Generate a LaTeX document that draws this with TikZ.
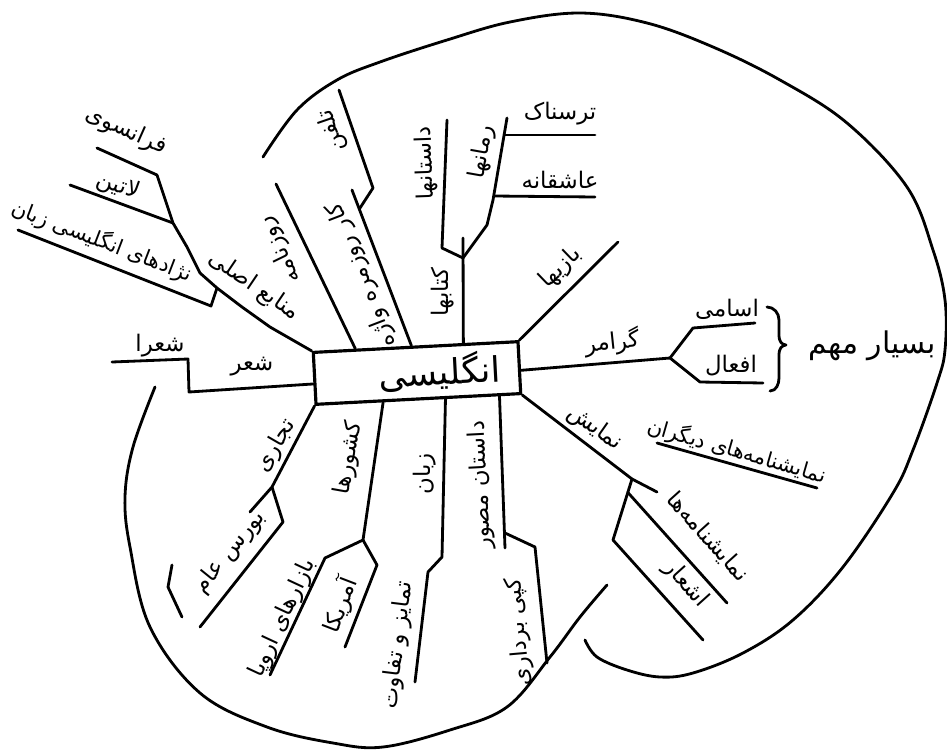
\documentclass[tikz,border=0pt]{standalone}
\usepackage{fontspec}
\newfontfamily\farsi[Script=Arabic]{DejaVu Sans}
\TeXXeTstate=1
\usetikzlibrary{calc}
\newcommand{\fa}[1]{\beginR #1\endR}

\begin{document}
\begin{tikzpicture}[x=0.02cm, y=-0.02cm,
    ln/.style={line width=1.6pt, line join=round, line cap=round},
    lab/.style={font=\farsi\fontsize{13}{15}\selectfont, inner sep=1pt},
    hub/.style={draw, line width=1.8pt, minimum width=4.1cm, minimum height=1.04cm, inner sep=0pt, font=\farsi\fontsize{20}{24}\selectfont}
  ]
    \useasboundingbox (0,0) rectangle (947,754);

    % Centre
    \node[hub, rotate=3] (eng) at (417,373) {\hspace*{0.9cm}\fa{انگلیسی}};

    % Outer rim, two lobes
    \draw[ln] plot[smooth, tension=0.6] coordinates {(263,157) (297,110) (337,80) (380,62) (447,40) (510,22) (580,13) (647,23) (713,47) (780,80) (847,123) (907,187) (933,250) (945,300) (945,350) (937,383) (913,450) (893,493) (843,567) (793,620) (743,653) (693,673) (660,677) (627,670) (597,657) (585,640)};
    \draw[ln] plot[smooth, tension=0.6] coordinates {(607,585) (580,617) (550,657) (507,707) (450,730) (383,747) (333,743) (267,727) (200,693) (150,627) (130,547) (125,497) (133,447) (155,387)};

    % Junctions and free ends
    \coordinate (shL) at ($(eng.north west)!0.6!(eng.south west)$);
    \coordinate (shiraEnd) at (112,362);
    \coordinate (srcFr) at (157,175);
    \coordinate (srcLat) at (173,223);
    \coordinate (srcNej) at (217,288);
    \coordinate (frEnd) at (97,148);
    \coordinate (latEnd) at (70,185);
    \coordinate (nejEnd) at (18,230);
    \coordinate (rozTop) at ($(eng.north west)!0.21!(eng.north east)$);
    \coordinate (rozEnd) at (276,184);
    \coordinate (karTop) at ($(eng.north west)!0.48!(eng.north east)$);
    \coordinate (karEnd) at (352,190);
    \coordinate (karJ) at (360,208);
    \coordinate (telEnd) at (339,90);
    \coordinate (ketTop) at ($(eng.north west)!0.73!(eng.north east)$);
    \coordinate (ketJ) at (463,258);
    \coordinate (ketEnd) at (463,238);
    \coordinate (dasEnd) at (447,120);
    \coordinate (romEnd) at (507,118);
    \coordinate (tarJ) at (504,135);
    \coordinate (tarEnd) at (595,135);
    \coordinate (ashJ) at (494,196);
    \coordinate (ashEnd) at (595,197);
    \coordinate (bazEnd) at (618,242);
    \coordinate (gramR) at ($(eng.north east)!0.55!(eng.south east)$);
    \coordinate (gramJ) at (670,358);
    \coordinate (asaEnd) at (755,323);
    \coordinate (afaEnd) at (763,383);
    \coordinate (namJ) at (632,479);
    \coordinate (namEnd) at (657,492);
    \coordinate (namSub) at ($(namJ)!0.22!(613,540)$);
    \coordinate (ashaarEnd) at (703,640);
    \coordinate (namhaEnd) at (727,603);
    \coordinate (digA) at (657,443);
    \coordinate (digB) at (817,488);
    \coordinate (tejJ) at (272,487);
    \coordinate (tejEnd) at (250,512);
    \coordinate (bourEnd) at (200,627);
    \coordinate (keshTop) at ($(eng.south west)!0.33!(eng.south east)$);
    \coordinate (keshJ) at (363,540);
    \coordinate (eurEnd) at (270,675);
    \coordinate (amrEnd) at (345,647);
    \coordinate (zabTop) at ($(eng.south west)!0.63!(eng.south east)$);
    \coordinate (zabEnd) at (415,682);
    \coordinate (mosTop) at ($(eng.south west)!0.89!(eng.south east)$);
    \coordinate (mosJ) at (505,533);
    \coordinate (mosEnd) at (505,548);
    \coordinate (kopEnd) at (547,663);

    % Branches
    \draw[ln] (shL) -- (189,392) -- (188,359) -- (shiraEnd);
    \draw[ln] (eng.north west) -- (270,327) -- (242,307) -- (srcNej) -- (200,273) -- (187,247) -- (srcLat) -- (srcFr);
    \draw[ln] (srcFr) -- (frEnd);
    \draw[ln] (srcLat) -- (latEnd);
    \draw[ln] (srcNej) -- (211,306) -- (nejEnd);
    \draw[ln] (rozTop) -- (rozEnd);
    \draw[ln] (karTop) -- (karEnd);
    \draw[ln] (karJ) -- (373,188) -- (telEnd);
    \draw[ln] (ketTop) -- (ketEnd);
    \draw[ln] (ketJ) -- (442,248) -- (dasEnd);
    \draw[ln] (ketJ) -- (487,225) -- (493,200) -- (romEnd);
    \draw[ln] (tarJ) -- (tarEnd);
    \draw[ln] (ashJ) -- (ashEnd);
    \draw[ln] (eng.north east) -- (bazEnd);
    \draw[ln] (gramR) -- (gramJ);
    \draw[ln] (gramJ) -- (693,328) -- (asaEnd);
    \draw[ln] (gramJ) -- (700,382) -- (afaEnd);
    \draw[ln] (eng.south east) -- (namJ) -- (namEnd);
    \draw[ln] (namJ) -- (613,540) -- (ashaarEnd);
    \draw[ln] (namSub) -- (namhaEnd);
    \draw[ln] (digA) -- (digB);
    \draw[ln] (eng.south west) -- (tejJ) -- (tejEnd);
    \draw[ln] (tejJ) -- (283,522) -- (bourEnd);
    \draw[ln] (172,565) -- (168,587) -- (182,617);
    \draw[ln] (keshTop) -- (keshJ);
    \draw[ln] (keshJ) -- (325,558) -- (eurEnd);
    \draw[ln] (keshJ) -- (377,565) -- (amrEnd);
    \draw[ln] (zabTop) -- (442,557) -- (428,572) -- (zabEnd);
    \draw[ln] (mosTop) -- (mosEnd);
    \draw[ln] (mosJ) -- (535,547) -- (kopEnd);

    % Brace
    \draw[ln] (767,307) to[out=0,in=90] (779,320) -- (779,336) to[out=-90,in=180] (786,345) to[out=180,in=90] (779,354) -- (779,378) to[out=-90,in=0] (770,391);

    % Labels
    \node[lab, rotate=-24] (frLab) at (126,131) {\fa{فرانسوی}};
    \node[lab, rotate=-20] (latLab) at (118,186) {\fa{لاتین}};
    \node[lab, rotate=-21, font=\farsi\fontsize{12}{14}\selectfont] (nejLab) at (102,241) {\fa{نژادهای انگلیسی زبان}};
    \node[lab, rotate=-34] (srcLab) at (254,286) {\fa{منابع اصلی}};
    \node[lab] (shiraLab) at (160,346) {\fa{شعرا}};
    \node[lab] (shLab) at (252,367) {\fa{شعر}};
    \node[lab, rotate=109] (telLab) at (332,131) {\fa{تلفن}};
    \node[lab, rotate=116] (rozLab) at (280,250) {\fa{روزنامه}};
    \node[lab, rotate=111] (karLab) at (362,275) {\fa{کار روزمره واژه}};
    \node[lab, rotate=92] (dasLab) at (426,163) {\fa{داستانها}};
    \node[lab, rotate=80] (romLab) at (482,152) {\fa{رمانها}};
    \node[lab, rotate=90] (ketLab) at (443,292) {\fa{کتابها}};
    \node[lab] (tarLab) at (560,114) {\fa{ترسناک}};
    \node[lab] (ashLab) at (560,180) {\fa{عاشقانه}};
    \node[lab, rotate=44] (bazLab) at (561,268) {\fa{بازیها}};
    \node[lab, rotate=6] (gramLab) at (612,342) {\fa{گرامر}};
    \node[lab] (asaLab) at (727,309) {\fa{اسامی}};
    \node[lab] (afaLab) at (731,366) {\fa{افعال}};
    \node[lab, font=\farsi\fontsize{17}{20}\selectfont] (mohLab) at (872,346) {\fa{بسیار مهم}};
    \node[lab, rotate=-35] (namLab) at (595,428) {\fa{نمایش}};
    \node[lab, rotate=-16, font=\farsi\fontsize{12}{14}\selectfont] (digLab) at (737,451) {\fa{نمایشنامه‌های دیگران}};
    \node[lab, rotate=-48] (namhaLab) at (708,537) {\fa{نمایشنامه‌ها}};
    \node[lab, rotate=-48] (ashaarLab) at (686,584) {\fa{اشعار}};
    \node[lab, rotate=60] (tejLab) at (276,446) {\fa{تجاری}};
    \node[lab, rotate=51] (bourLab) at (230,552) {\fa{بورس عام}};
    \node[lab, rotate=80] (keshLab) at (349,458) {\fa{کشورها}};
    \node[lab, rotate=90] (zabLab) at (425,474) {\fa{زبان}};
    \node[lab, rotate=65] (eurLab) at (283,618) {\fa{بازارهای اروپا}};
    \node[lab, rotate=69] (amrLab) at (340,605) {\fa{آمریکا}};
    \node[lab, rotate=83] (tamLab) at (398,645) {\fa{تمایز و تفاوت}};
    \node[lab, rotate=93] (mosLab) at (481,485) {\fa{داستان مصور}};
    \node[lab, rotate=95] (kopLab) at (519,632) {\fa{کپی برداری}};
\end{tikzpicture}
\end{document}
